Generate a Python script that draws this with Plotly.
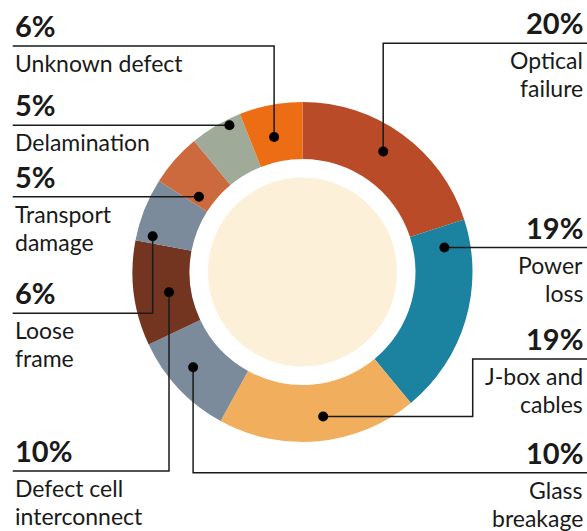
import numpy as np
import plotly.graph_objects as go

# --- data -------------------------------------------------------------
causes = ["Optical failure", "Power loss", "J-box and cables", "Glass breakage",
          "Defect cell interconnect", "Loose frame", "Transport damage",
          "Delamination", "Unknown defect"]
shares = [20, 19, 19, 10, 10, 6, 5, 5, 6]
label_lines = [["Optical", "failure"], ["Power", "loss"], ["J-box and", "cables"],
               ["Glass", "breakage"], ["Defect cell", "interconnect"], ["Loose", "frame"],
               ["Transport", "damage"], ["Delamination"], ["Unknown defect"]]

colors = ["#b94b29", "#1b82a0", "#f1af5e", "#7c8b9b", "#733520",
          "#7c8b9b", "#cd6a3d", "#9faa99", "#ec6d13"]

# --- layout helpers (pixels) -------------------------------------------
W, H = 587, 531
CX, CY = 302.5, 272
R_OUT, R_IN, R_CREAM = 170, 113, 94.5
LEFT_X, RIGHT_X = 12.7, 585
LINE_GAP = 28

# dot place inside each slice: (fraction of slice angle, radius)
dot_pos = [(0.47, 145), (0.12, 144), (0.46, 146), (0.56, 145), (0.46, 135),
           (0.12, 154), (0.20, 128), (0.73, 164), (0.45, 138)]
# label side and y of the rule under the percentage (None = level with dot)
side = ["r", "r", "r", "r", "l", "l", "l", "l", "l"]
rule_y = [43.3, None, 359, 472.7, 471, 313.3, None, None, 46]
jog_x = [None, None, 472.7, None, None, None, None, None, None]

FONT = "Lato"
INK = "#1a1a1a"

fig = go.Figure()
fig.add_trace(go.Pie(
    values=shares, labels=causes, sort=False, direction="clockwise", rotation=0,
    hole=R_IN / R_OUT, textinfo="none", hoverinfo="label+percent",
    marker=dict(colors=colors, line=dict(width=0)),
    domain=dict(x=[(CX - R_OUT) / W, (CX + R_OUT) / W],
                y=[(H - CY - R_OUT) / H, (H - CY + R_OUT) / H]),
    showlegend=False,
))

# angles of dots from the data
total = sum(shares)
starts = np.cumsum([0] + shares[:-1]) / total * 360
spans = np.array(shares) / total * 360
ang = np.radians(starts + np.array([p[0] for p in dot_pos]) * spans)
rad = np.array([p[1] for p in dot_pos])
dot_x = CX + rad * np.sin(ang)
dot_y = CY - rad * np.cos(ang)

fig.add_trace(go.Scatter(x=dot_x, y=dot_y, mode="markers", marker=dict(opacity=0),
                         hoverinfo="skip", showlegend=False))

shapes = [dict(type="circle", xref="x", yref="y", layer="below",
               x0=CX - R_CREAM, x1=CX + R_CREAM, y0=CY - R_CREAM, y1=CY + R_CREAM,
               fillcolor="#fdf0d8", line=dict(width=0))]
annotations = []
for i in range(len(causes)):
    dx, dy = dot_x[i], dot_y[i]
    ry = dy if rule_y[i] is None else rule_y[i]
    end_x = RIGHT_X + 5 if side[i] == "r" else LEFT_X
    pts = [(dx, dy)]
    if jog_x[i] is not None:
        pts += [(jog_x[i], dy), (jog_x[i], ry)]
    elif rule_y[i] is not None:
        pts.append((dx, ry))
    pts.append((end_x, ry))
    path = "M " + " L ".join(f"{x:.1f},{y:.1f}" for x, y in pts)
    shapes.append(dict(type="path", xref="x", yref="y", path=path, layer="above",
                       line=dict(color=INK, width=1.5)))
    shapes.append(dict(type="circle", xref="x", yref="y", layer="above",
                       x0=dx - 5, x1=dx + 5, y0=dy - 5, y1=dy + 5,
                       fillcolor="#000000", line=dict(width=0)))

    tx = RIGHT_X if side[i] == "r" else LEFT_X
    anchor = "right" if side[i] == "r" else "left"
    annotations.append(dict(
        x=tx, y=ry - 1, xref="x", yref="y", xanchor=anchor, yanchor="bottom",
        text=f"<b>{shares[i]}%</b>", showarrow=False,
        font=dict(family=FONT, size=29, color=INK)))
    for k, line in enumerate(label_lines[i]):
        annotations.append(dict(
            x=tx, y=ry + 1 + k * LINE_GAP, xref="x", yref="y", xanchor=anchor,
            yanchor="top", text=line, showarrow=False,
            font=dict(family=FONT, size=23, color=INK)))

fig.update_xaxes(range=[0, W], visible=False, domain=[0, 1], fixedrange=True)
fig.update_yaxes(range=[H, 0], visible=False, domain=[0, 1], fixedrange=True)
fig.update_layout(
    width=W, height=H,
    margin=dict(l=0, r=0, t=0, b=0),
    paper_bgcolor="white", plot_bgcolor="rgba(0,0,0,0)",
    shapes=shapes, annotations=annotations,
)

fig.write_html("out.html", config={"displayModeBar": False},
               post_script="document.body.style.margin='0px';")
